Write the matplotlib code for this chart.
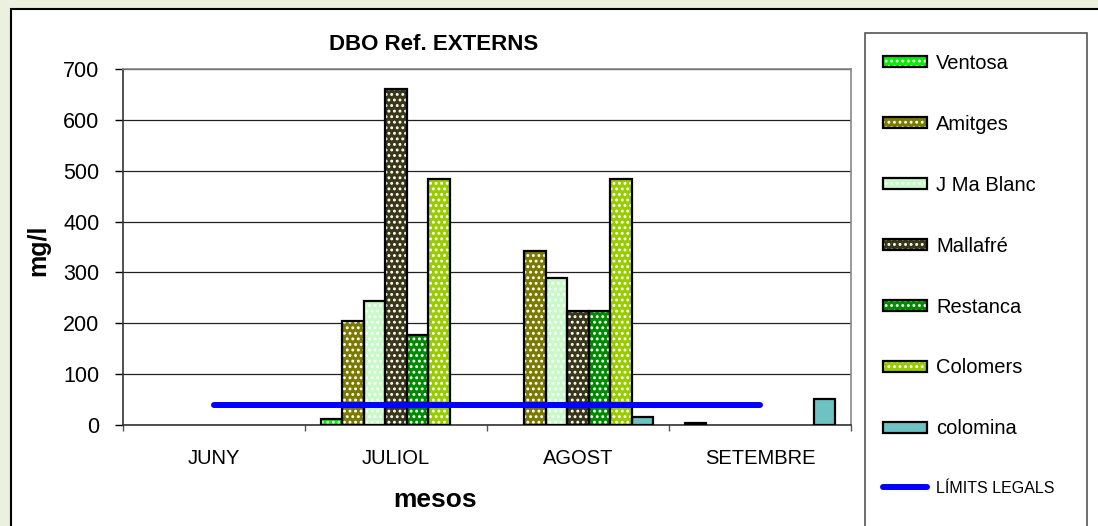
import numpy as np
import matplotlib
matplotlib.use("Agg")
import matplotlib.pyplot as plt
from matplotlib.patches import Rectangle

plt.rcParams['font.family'] = ['Liberation Sans', 'DejaVu Sans']
plt.rcParams['hatch.linewidth'] = 1.3

# DBO mesurada a cada refugi (mg/l), per mes
mesos = ['JUNY', 'JULIOL', 'AGOST', 'SETEMBRE']
ventosa = [np.nan, 12, np.nan, 4]
amitges = [np.nan, 204, 342, np.nan]
j_ma_blanc = [np.nan, 244, 290, np.nan]
mallafre = [np.nan, 660, 224, np.nan]
restanca = [np.nan, 176, 224, np.nan]
colomers = [np.nan, 483, 483, np.nan]
colomina = [np.nan, np.nan, 16, 51]
limits_legals = [40, 40, 40, 40]

series = [
    ('Ventosa', ventosa, '#00F000', '...'),
    ('Amitges', amitges, '#7A7A00', '...'),
    ('J Ma Blanc', j_ma_blanc, '#C8FAC8', '...'),
    ('Mallafré', mallafre, '#3A3618', '...'),
    ('Restanca', restanca, '#008A00', '...'),
    ('Colomers', colomers, '#99CC00', '...'),
    ('colomina', colomina, '#6EC2C2', None),
]

W, H = 1098, 526
fig = plt.figure(figsize=(W / 100, H / 100), dpi=100, facecolor='#EBF1DE')

# fons blanc del grafic i marc de la llegenda
fig.patches.append(Rectangle((11 / W, -0.1), 1.2, 1.1 - 9 / H, transform=fig.transFigure,
                             facecolor='white', edgecolor='black', linewidth=1.5, zorder=-2))
fig.patches.append(Rectangle((865 / W, -0.1), 222 / W, 1.1 - 33 / H, transform=fig.transFigure,
                             facecolor='none', edgecolor='#555555', linewidth=1.2, zorder=-1))

ax = fig.add_axes([123 / W, 1 - 425 / H, 728 / W, 356 / H])
ax.set_facecolor('white')

x = np.arange(len(mesos))
n = len(series)
w = 1 / (n + 1.5)
handles = []
for i, (nom, vals, color, hatch) in enumerate(series):
    pos = x + (i - (n - 1) / 2) * w
    fons = ax.bar(pos, vals, w, color=color, edgecolor='white', hatch=hatch, linewidth=0, zorder=2)
    vora = ax.bar(pos, vals, w, fill=False, edgecolor='black', linewidth=1.6, zorder=3)
    handles.append((fons[0], vora[0]))

linia, = ax.plot(x, limits_legals, color='#0000FF', linewidth=4.3, solid_capstyle='round', zorder=4)
handles.append(linia)

ax.set_xlim(-0.5, len(mesos) - 0.5)
ax.set_ylim(0, 700)
ax.set_yticks(range(0, 701, 100))
ax.yaxis.grid(True, color='#222222', linewidth=0.9, zorder=1)
ax.set_axisbelow(True)

ax.set_xticks(x)
ax.set_xticklabels(mesos, fontsize=14.5)
ax.set_xticks(np.arange(-0.5, len(mesos)), minor=True)
ax.tick_params(axis='x', which='major', length=0, pad=17)
ax.tick_params(axis='x', which='minor', length=4, width=1, color='#555555', direction='out')
ax.tick_params(axis='y', length=6, width=1, pad=11, labelsize=15.5)

for side in ['top', 'right']:
    ax.spines[side].set_color('#888888')
    ax.spines[side].set_linewidth(1.2)
ax.spines['left'].set_color('#333333')
ax.spines['bottom'].set_color('#333333')
ax.spines['left'].set_linewidth(1.2)
ax.spines['bottom'].set_linewidth(1.2)

fig.text(434 / W, 1 - 45 / H, 'DBO Ref. EXTERNS', ha='center', va='center',
         fontsize=16, fontweight='bold')
fig.text(435 / W, 1 - 500 / H, 'mesos', ha='center', va='center', fontsize=19, fontweight='bold')
fig.text(38 / W, 1 - 250 / H, 'mg/l', ha='center', va='center', rotation=90,
         fontsize=18, fontweight='bold')

noms = [s[0] for s in series] + ['LÍMITS LEGALS']
leg = fig.legend(handles, noms, loc='upper left', bbox_to_anchor=(883 / W, 1 - 54 / H),
                 frameon=False, fontsize=14.5, handlelength=2.2, handleheight=0.45,
                 handletextpad=0.45, labelspacing=2.08, borderpad=0, borderaxespad=0)
leg.get_texts()[-1].set_fontsize(11.5)

fig.savefig('out.png', dpi=100, facecolor=fig.get_facecolor())
